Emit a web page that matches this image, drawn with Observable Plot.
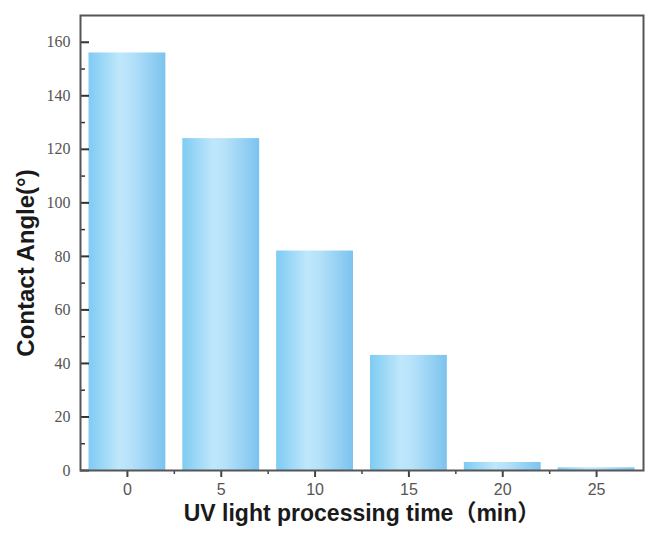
<!DOCTYPE html>
<html>
<head>
<meta charset="utf-8">
<script src="https://cdn.jsdelivr.net/npm/d3@7"></script>
<script src="https://cdn.jsdelivr.net/npm/@observablehq/plot@0.6"></script>
<style>
  html, body { margin: 0; padding: 0; background: #fff; }
  #chart { width: 655px; height: 538px; }
  g[aria-label="y-axis tick label"] { font-family: "Liberation Serif", serif; }
  g[aria-label="x-axis tick label"] { font-family: "Liberation Sans", Arial, sans-serif; }
</style>
</head>
<body>
<div id="chart"></div>
<script>
const times = [0, 5, 10, 15, 20, 25];
const angles = [156, 124, 82, 43, 3, 1];
const yTicks = [0, 20, 40, 60, 80, 100, 120, 140, 160];
const yMinor = [10, 30, 50, 70, 90, 110, 130, 150];
const xMinor = [2.5, 7.5, 12.5, 17.5, 22.5];
const xLabel = "UV light processing time（min）";
const yLabel = "Contact Angle(°)";

const data = times.map((t, i) => ({t, v: angles[i]}));
const labelFont = "'Liberation Sans', 'Noto Sans CJK SC', Arial, sans-serif";

const plot = Plot.plot({
  width: 655,
  height: 538,
  marginLeft: 80,
  marginRight: 12,
  marginTop: 15,
  marginBottom: 68,
  style: {background: "#fff", color: "#555"},
  x: {domain: [-2.5, 27.5]},
  y: {domain: [0, 170]},
  marks: [
    Plot.rectY(data, {x1: d => d.t - 2.5, x2: d => d.t + 2.5, y: "v", insetLeft: 8.5, insetRight: 8.5, fill: "url(#barGrad)"}),
    Plot.tickY(yTicks, {y: d => d, insetRight: 554, stroke: "#333", strokeWidth: 2}),
    Plot.tickY(yMinor, {y: d => d, insetRight: 558, stroke: "#333", strokeWidth: 1.5}),
    Plot.axisY({ticks: yTicks, tickSize: 0, tickPadding: 10, label: null, fontSize: 16, fill: "#555"}),
    Plot.axisX({ticks: times, tickSize: 7, tickPadding: 6, label: null, fontSize: 16, fill: "#555", stroke: "#444", strokeWidth: 2}),
    Plot.axisX({ticks: xMinor, tickSize: 4, text: null, label: null, stroke: "#444", strokeWidth: 1.5}),
    Plot.frame({stroke: "#555", strokeWidth: 2}),
    Plot.text([xLabel], {frameAnchor: "bottom", dy: 50, fontSize: 23, fontWeight: "bold", fontFamily: labelFont, fill: "#1a1a1a"}),
    Plot.text([yLabel], {frameAnchor: "left", dx: -54, dy: 20, rotate: -90, textAnchor: "middle", fontSize: 24, fontWeight: "bold", fontFamily: labelFont, fill: "#1a1a1a"})
  ]
});

const svg = d3.select(plot);
const defs = svg.insert("defs", ":first-child");
const g = defs.append("linearGradient").attr("id", "barGrad").attr("x1", "0").attr("x2", "1").attr("y1", "0").attr("y2", "0");
[["0%", "#7ecbf3"], ["40%", "#bfe7fb"], ["55%", "#b6e2fa"], ["100%", "#7cc3ee"]].forEach(([o, c]) =>
  g.append("stop").attr("offset", o).attr("stop-color", c));

document.getElementById("chart").appendChild(plot);
</script>
</body>
</html>
